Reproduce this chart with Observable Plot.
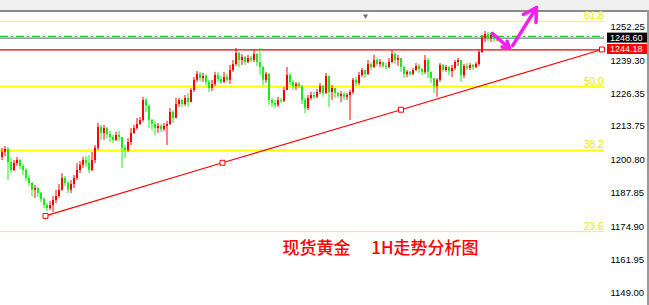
<!DOCTYPE html>
<html><head><meta charset="utf-8">
<script src="https://cdn.jsdelivr.net/npm/d3@7"></script>
<script src="https://cdn.jsdelivr.net/npm/@observablehq/plot@0.6"></script>
<style>html,body{margin:0;padding:0;background:#fff;} svg{display:block}</style>
</head><body>
<script>
// ---- data ----
const firstOpen = 1202.3;
const closes = [
1204.2,1205.4,1200.3,1197.2,1199.9,1201.1,1198.8,1197.2,1194.1,1192.2,
1189.5,1190.2,1188.3,1186.0,1183.6,1182.5,1183.6,1185.6,1187.1,1189.5,
1194.1,1192.2,1189.5,1191.8,1194.1,1197.2,1199.2,1201.1,1199.9,1197.2,
1201.1,1205.8,1213.9,1211.6,1213.5,1211.2,1210.0,1208.9,1210.8,1210.0,
1205.8,1205.0,1208.1,1211.6,1213.5,1215.1,1216.6,1224.4,1222.1,1216.6,
1215.1,1213.5,1214.3,1213.1,1214.3,1215.1,1219.7,1217.4,1222.8,1224.4,
1222.8,1225.2,1223.6,1228.3,1232.2,1234.5,1232.9,1233.7,1231.4,1229.0,
1230.6,1234.1,1232.5,1231.4,1233.3,1232.2,1236.0,1238.4,1242.6,1239.9,
1241.1,1239.1,1240.7,1239.9,1242.2,1239.1,1237.2,1232.2,1234.5,1224.4,
1223.2,1222.5,1224.4,1224.0,1228.3,1234.1,1231.4,1229.8,1230.6,1229.8,
1224.4,1221.3,1225.2,1226.3,1225.6,1227.5,1229.8,1227.1,1233.7,1227.5,
1229.0,1227.1,1225.9,1226.7,1225.6,1226.3,1227.5,1232.2,1231.0,1234.1,
1236.0,1234.5,1238.4,1237.2,1239.9,1238.4,1239.1,1237.6,1237.2,1239.1,
1242.2,1239.9,1240.7,1237.2,1234.5,1235.3,1234.5,1236.0,1237.6,1236.4,
1235.3,1239.9,1235.3,1232.9,1229.8,1232.2,1238.0,1236.0,1237.2,1235.6,
1236.8,1239.1,1239.9,1234.1,1237.6,1236.8,1238.0,1237.2,1238.4,1243.0,
1248.5,1250.0,1248.5,1249.6,1248.1,1248.6];
const highs = [
1205.8,1206.5,1206.1,1201.9,1201.1,1202.3,1201.5,1199.5,1198.0,1195.3,
1192.5,1191.4,1190.6,1188.7,1186.7,1184.4,1185.2,1187.1,1189.5,1191.8,
1196.0,1194.9,1192.9,1193.3,1195.3,1199.9,1200.7,1202.3,1202.6,1203.0,
1204.2,1206.9,1215.5,1214.7,1214.7,1213.9,1212.4,1210.8,1212.0,1212.4,
1210.0,1206.9,1209.6,1213.5,1214.7,1217.4,1217.8,1225.6,1225.2,1222.5,
1217.0,1216.2,1215.5,1215.1,1215.5,1216.2,1221.3,1220.5,1225.2,1225.2,
1224.8,1226.3,1227.1,1229.0,1233.3,1235.6,1235.3,1234.9,1234.5,1232.2,
1232.2,1235.3,1235.3,1233.7,1235.3,1234.5,1238.0,1239.9,1244.6,1243.0,
1242.2,1241.5,1241.9,1241.5,1243.8,1242.6,1244.6,1237.6,1235.3,1234.9,
1225.2,1224.4,1225.6,1225.2,1229.4,1237.2,1234.9,1232.2,1231.4,1231.4,
1230.2,1225.2,1226.3,1227.5,1227.5,1228.7,1231.0,1230.2,1234.9,1233.7,
1230.2,1229.0,1227.5,1227.9,1227.5,1227.1,1228.3,1232.9,1233.3,1235.3,
1236.8,1236.0,1239.9,1239.1,1241.9,1240.7,1240.3,1239.1,1238.7,1240.7,
1243.8,1243.0,1241.9,1240.7,1237.6,1236.0,1235.6,1236.8,1238.7,1238.4,
1236.8,1241.9,1240.7,1235.3,1232.9,1232.9,1238.7,1238.4,1238.0,1237.6,
1238.0,1239.9,1240.7,1239.9,1238.4,1238.7,1238.7,1238.4,1239.1,1243.8,
1249.6,1251.2,1250.8,1250.4,1250.0,1249.6];
const lows = [
1201.1,1202.6,1193.3,1196.0,1196.8,1198.8,1197.6,1195.3,1192.9,1191.0,
1187.1,1186.4,1186.7,1184.8,1182.5,1181.3,1181.7,1180.9,1184.4,1186.4,
1189.1,1191.0,1188.3,1188.3,1190.2,1193.3,1196.0,1198.0,1198.4,1196.0,
1196.8,1199.9,1205.0,1208.9,1208.9,1209.6,1208.1,1207.7,1208.5,1208.5,
1198.0,1201.9,1204.2,1206.9,1211.2,1212.8,1214.7,1215.9,1219.7,1213.5,
1212.8,1210.8,1211.6,1212.0,1212.4,1206.9,1214.7,1215.5,1217.4,1221.7,
1221.7,1222.1,1221.7,1223.6,1227.5,1231.4,1231.8,1231.4,1230.2,1227.5,
1227.9,1229.8,1231.4,1230.6,1231.0,1231.4,1230.6,1235.3,1237.6,1237.2,
1238.0,1238.0,1238.7,1239.1,1239.1,1237.6,1234.1,1230.2,1231.0,1222.5,
1221.7,1221.3,1221.7,1223.2,1223.6,1228.3,1230.2,1228.3,1228.3,1229.0,
1222.8,1219.3,1220.5,1224.4,1224.8,1225.2,1226.7,1225.6,1226.7,1221.7,
1224.4,1225.2,1225.2,1223.6,1224.4,1224.4,1216.6,1226.7,1229.8,1230.2,
1233.3,1232.9,1234.1,1236.0,1236.8,1237.6,1237.2,1236.8,1236.4,1236.8,
1238.7,1238.4,1237.6,1235.3,1232.9,1233.3,1233.7,1234.1,1235.6,1234.9,
1234.1,1234.5,1232.9,1231.0,1227.1,1225.6,1231.4,1235.3,1235.3,1234.1,
1233.3,1236.0,1237.6,1231.4,1232.9,1236.0,1236.0,1236.0,1236.8,1237.6,
1242.6,1246.9,1247.3,1246.9,1246.9,1247.3];

const tickValues = [1252.25, 1239.30, 1226.35, 1213.75, 1200.80, 1187.85, 1174.90, 1161.95, 1149.00];
const fibLabels = ["61.8", "50.0", "38.2", "23.6"];
const fibPrices = [1255.1, 1229.8, 1205.0, 1173.5];
const askPrice = 1249.3;
const bidPrice = 1248.60;
const resistancePrice = 1244.0;
const trendIndex = [14.5, 73.5, 133, 200];
const trendPrice = [1179.6, 1200.2, 1220.8, 1244.18];
const trendEndLabel = 1244.18;
const arrowStartIndex = [163.5, 170.2];
const arrowStartPrice = [1250.4, 1245.7];
const arrowEndIndex = [169.2, 178.2];
const arrowEndPrice = [1244.6, 1260.5];
const titleText = "现货黄金\u3000 1H走势分析图";

// ---- tables built from the arrays ----
const candles = closes.map((c, i) => ({
  i, open: i === 0 ? firstOpen : closes[i - 1], close: c, high: highs[i], low: lows[i]
}));
const UP = "#ff0000", DOWN = "#19ea19";
const colorOf = d => d.close > d.open ? UP : DOWN;
const trend = trendIndex.map((x, k) => ({x, y: trendPrice[k]}));
const arrows = arrowStartIndex.map((x, k) => ({x1: x, y1: arrowStartPrice[k], x2: arrowEndIndex[k], y2: arrowEndPrice[k]}));

const chart = Plot.plot({
  width: 649, height: 305,
  marginTop: 0, marginBottom: 0, marginLeft: 0, marginRight: 45,
  style: {background: "#fff", fontFamily: "'Liberation Sans', Arial, sans-serif", color: "#000", overflow: "visible"},
  x: {type: "linear", domain: [0, 200], range: [1.5, 601.5], axis: null},
  y: {domain: [1149, 1252.25], range: [294.2, 28.2]},
  marks: [
    Plot.ruleY(fibPrices, {stroke: "#ffff00", strokeWidth: (d, i) => (i === 1 || i === 2 ? 2 : 1)}),
    Plot.text(fibPrices, {y: d => d, text: (d, i) => fibLabels[i], frameAnchor: "right", textAnchor: "end",
      lineAnchor: "bottom", dx: -1, dy: -2, fill: "#e8e800", fontSize: 10}),
    Plot.ruleY([askPrice], {stroke: "#22cc22", strokeWidth: 1.3, strokeDasharray: "8,3,2,3"}),
    Plot.ruleY([bidPrice], {stroke: "#708090", strokeWidth: 1.3}),
    Plot.ruleY([resistancePrice], {stroke: "#ee0000", strokeWidth: 1.2}),
    Plot.ruleX(candles, {x: "i", y1: "low", y2: "high", stroke: colorOf, strokeWidth: 1}),
    Plot.ruleX(candles, {x: "i", y1: "open", y2: "close", stroke: colorOf, strokeWidth: 2}),
    Plot.line(trend, {x: "x", y: "y", stroke: "#ff0000", strokeWidth: 1.1}),
    Plot.dot(trend, {x: "x", y: "y", symbol: "square", r: 2.8, fill: "#fff", stroke: "#ff0000", strokeWidth: 1}),
    Plot.arrow(arrows, {x1: "x1", y1: "y1", x2: "x2", y2: "y2", stroke: "#f020f0", strokeWidth: 3.5, headLength: 12, headAngle: 60}),
    Plot.axisY(tickValues, {anchor: "right", tickSize: 0, tickPadding: 6, tickFormat: d => d.toFixed(2), fontSize: 9.5, fill: "#000", dy: -1.5}),
    Plot.text([titleText], {frameAnchor: "bottom-left", textAnchor: "start", lineAnchor: "middle", dx: 282, dy: -57,
      fill: "#ff0000", fontSize: 17, fontWeight: 500, fontFamily: "'Noto Sans CJK SC', sans-serif"}),
    Plot.text(["▼"], {frameAnchor: "top-left", textAnchor: "middle", lineAnchor: "middle", dx: 365, dy: 16, fontSize: 8, fill: "#5f6f80"})
  ]
});

// ---- window chrome and price labels ----
const svgSel = d3.select(chart);
const yScale = chart.scale("y");
const chrome = svgSel.insert("g", ":first-child");
chrome.append("rect").attr("x", 0).attr("y", 0).attr("width", 649).attr("height", 10).attr("fill", "#f0f0f0");
chrome.append("line").attr("x1", 0).attr("x2", 649).attr("y1", 11).attr("y2", 11).attr("stroke", "#8a8a8a").attr("stroke-width", 2);
svgSel.append("line").attr("x1", 648).attr("x2", 648).attr("y1", 10).attr("y2", 305).attr("stroke", "#9a9a9a").attr("stroke-width", 2);
[{v: bidPrice, bg: "#000"}, {v: trendEndLabel, bg: "#ff0000"}].forEach(d => {
  const yy = yScale.apply(d.v);
  svgSel.append("rect").attr("x", 607).attr("y", yy - 5).attr("width", 40).attr("height", 10).attr("fill", d.bg);
  svgSel.append("text").attr("x", 610).attr("y", yy).attr("dy", "0.34em").attr("fill", "#fff")
    .attr("text-anchor", "start").attr("font-size", 9)
    .attr("font-family", "'Liberation Sans', Arial, sans-serif").text(d.v.toFixed(2));
});
document.body.appendChild(chart);
</script>
</body></html>
